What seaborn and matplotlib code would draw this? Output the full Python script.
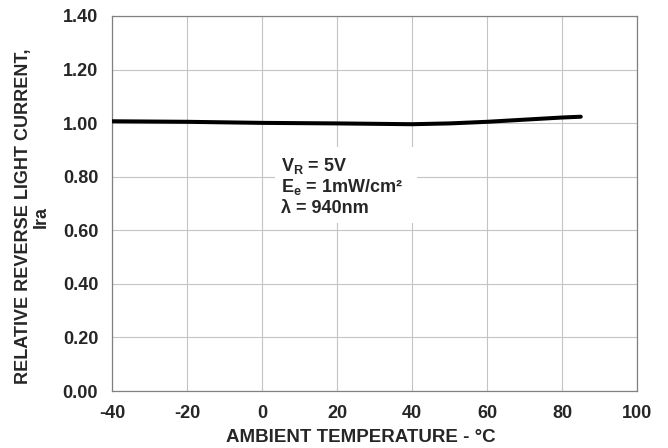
import matplotlib
matplotlib.use("Agg")
import matplotlib.pyplot as plt
from matplotlib.patches import Rectangle
import seaborn as sns
import pandas as pd

# curva
temp = [-40, -20, 0, 20, 40, 50, 60, 70, 80, 85]
ira = [1.007, 1.005, 1.001, 0.999, 0.996, 0.999, 1.005, 1.013, 1.021, 1.024]

x_ticks = [-40, -20, 0, 20, 40, 60, 80, 100]
y_ticks = [0.0, 0.2, 0.4, 0.6, 0.8, 1.0, 1.2, 1.4]

condiciones = ["V$_\\mathbf{R}$ = 5V", "E$_\\mathbf{e}$ = 1mW/cm²", "λ = 940nm"]

df = pd.DataFrame({"T": temp, "Ira": ira})

sns.set_style("white")
plt.rcParams['font.family'] = ['Liberation Sans', 'DejaVu Sans']
plt.rcParams['font.weight'] = 'bold'
plt.rcParams['mathtext.fontset'] = 'custom'
plt.rcParams['mathtext.rm'] = 'Liberation Sans:bold'
plt.rcParams['mathtext.bf'] = 'Liberation Sans:bold'

fig = plt.figure(figsize=(6.68, 4.48), dpi=100)
ax = fig.add_axes([0.1677, 0.1272, 0.7859, 0.8371])

sns.lineplot(data=df, x="T", y="Ira", color="black", linewidth=2.9, ax=ax, zorder=3)

ax.set_xlim(-40, 100)
ax.set_ylim(0, 1.4)
ax.set_xticks(x_ticks)
ax.set_yticks(y_ticks)
ax.set_xticklabels([str(t) for t in x_ticks], fontsize=13, fontweight='bold')
ax.set_yticklabels([f"{v:.2f}" for v in y_ticks], fontsize=13, fontweight='bold')
ax.tick_params(axis='x', length=0, pad=10)
ax.tick_params(axis='y', length=0, pad=10)
ax.grid(True, color="#c4c4c4", linewidth=0.8)
for s in ax.spines.values():
    s.set_color("#808080")
    s.set_linewidth(0.9)

ax.set_xlabel("AMBIENT TEMPERATURE - °C", fontsize=13.5, fontweight='bold')
ax.xaxis.set_label_coords(0.474, -0.1)
ax.set_ylabel("RELATIVE REVERSE LIGHT CURRENT,\nIra", fontsize=13, fontweight='bold',
              linespacing=1.1)
ax.yaxis.set_label_coords(-0.118, 0.465)

# caja blanca con las condiciones
ax.add_patch(Rectangle((3.5, 0.627), 37.8, 0.284, facecolor='white', edgecolor='none', zorder=2))
for txt, yb in zip(condiciones, [0.821, 0.743, 0.6645]):
    ax.text(5.1, yb, txt, fontsize=13, fontweight='bold', va='baseline', ha='left', zorder=4)

fig.savefig("out.png", dpi=100)
